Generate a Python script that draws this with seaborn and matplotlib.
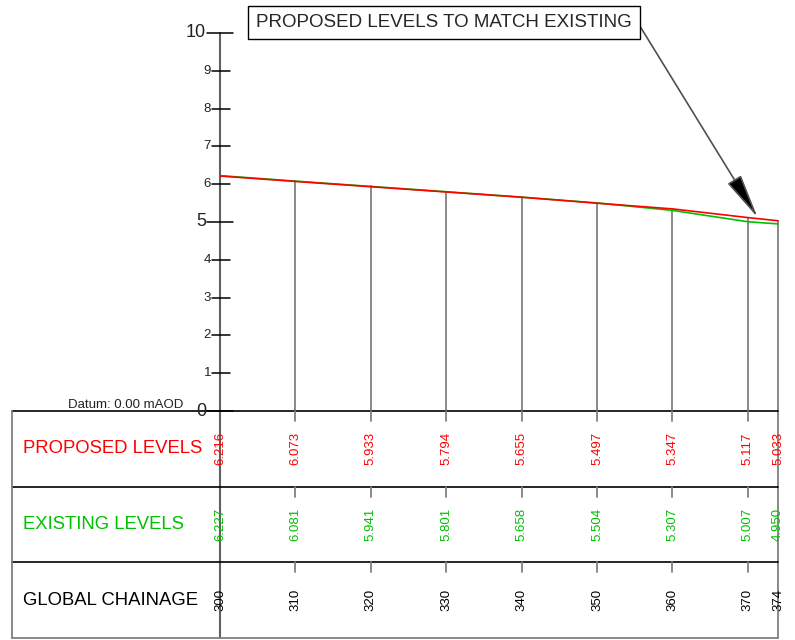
import numpy as np
import pandas as pd
import matplotlib.pyplot as plt
import seaborn as sns

# long section data
chainage = [300, 310, 320, 330, 340, 350, 360, 370, 374]
proposed = [6.216, 6.073, 5.933, 5.794, 5.655, 5.497, 5.347, 5.117, 5.033]
existing = [6.227, 6.081, 5.941, 5.801, 5.658, 5.504, 5.307, 5.007, 4.950]
level_ticks = [0, 1, 2, 3, 4, 5, 6, 7, 8, 9, 10]
major_ticks = [0, 5, 10]
row_labels = ["PROPOSED LEVELS", "EXISTING LEVELS", "GLOBAL CHAINAGE"]
note = "PROPOSED LEVELS TO MATCH EXISTING"
datum = "Datum: 0.00 mAOD"

RED = "#ff0000"
GREEN = "#00c000"
GREY = "#808080"

sns.set_style("white")
plt.rcParams['font.family'] = ['Liberation Sans', 'DejaVu Sans']

fig = plt.figure(figsize=(7.95, 6.4), dpi=100)
ax = fig.add_axes([0, 0, 1, 1])

# drawing scale (px per unit) and origin in pixels
sx, sy = 7.5405, 37.8
x0, y0 = 220, 411
ax.set_xlim(300 - x0 / sx, 300 + (795 - x0) / sx)
ax.set_ylim(-(640 - y0) / sy, y0 / sy)
ax.axis('off')

ch0, ch1 = chainage[0], chainage[-1]
row_h = 75.7 / sy
left = ch0 - 208 / sx
rows_top = [0, -row_h, -2 * row_h]
bottom = -3 * row_h

# profile lines
df = pd.DataFrame({'chainage': chainage * 2,
                   'level': proposed + existing,
                   'series': ['Proposed'] * len(chainage) + ['Existing'] * len(chainage)})
sns.lineplot(data=df, x='chainage', y='level', hue='series',
             palette={'Proposed': RED, 'Existing': GREEN},
             hue_order=['Existing', 'Proposed'],
             legend=False, lw=1.2, ax=ax, zorder=3)

# verticals at each chainage
for ch, p, e in zip(chainage[1:], proposed[1:], existing[1:]):
    ax.plot([ch, ch], [0, max(p, e)], color=GREY, lw=1.3, zorder=2)
ax.plot([ch1, ch1], [bottom, 0], color=GREY, lw=1.3)
ax.plot([ch0, ch0], [bottom, level_ticks[-1]], color='#606060', lw=1.5)

# level axis ticks
for t in level_ticks:
    big = t in major_ticks
    a, b = (13, 13) if big else (8, 10)
    ax.plot([ch0 - a / sx, ch0 + b / sx], [t, t], color='black', lw=1.1)
    ax.text(ch0 - (a + 1) / sx, t, str(t), ha='right', va='center',
            fontsize=13 if big else 9.5, color='#222222')

# table grid
for y in rows_top:
    ax.plot([left, ch1], [y, y], color='black', lw=1.2)
ax.plot([left, ch1], [bottom, bottom], color=GREY, lw=1.3)
ax.plot([left, left], [bottom, 0], color=GREY, lw=1.3)
for ch in chainage[1:-1]:
    for y in rows_top:
        ax.plot([ch, ch], [y, y - 10 / sy], color=GREY, lw=1.3)

# table text
colors = [RED, GREEN, 'black']
values = [[f"{v:.3f}" for v in proposed], [f"{v:.3f}" for v in existing],
          [str(c) for c in chainage]]
for y, lab, col, vals in zip(rows_top, row_labels, colors, values):
    mid = y - row_h / 2
    ax.text(left + 11 / sx, mid, lab, ha='left', va='center', fontsize=13.3, color=col)
    for ch, v in zip(chainage, vals):
        ax.text(ch, mid, v, rotation=90, ha='center', va='center',
                fontsize=9.5, color=col)

ax.text(ch0 - 152 / sx, 3 / sy, datum, ha='left', va='baseline',
        fontsize=9.5, color='#222222')

# callout box and leader
ax.text(ch0 + 224 / sx, (y0 - 22.5) / sy, note, ha='center', va='center',
        fontsize=13.5, zorder=5,
        bbox=dict(boxstyle='square,pad=0.42', fc='white', ec='black', lw=1))
ax.annotate('', xy=(371.3, 5.12), xytext=(ch0 + 418 / sx, (y0 - 23) / sy),
            arrowprops=dict(arrowstyle='-|>,head_length=2.0,head_width=0.35',
                            fc='black', ec='#505050', lw=1.2,
                            shrinkA=0, shrinkB=0, mutation_scale=14),
            annotation_clip=False)

fig.savefig('out.png', dpi=100, facecolor='white')
